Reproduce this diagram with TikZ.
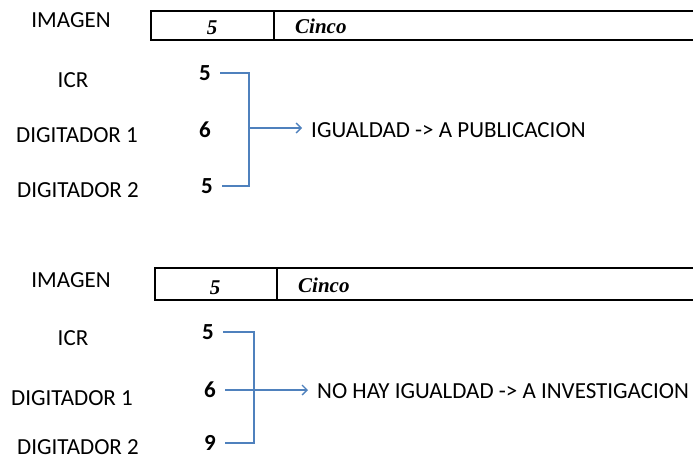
\documentclass[tikz,border=0pt]{standalone}
\usepackage{fontspec}
\setmainfont{Carlito}
\newfontfamily\handfont{Liberation Serif}
\usetikzlibrary{arrows.meta}
\definecolor{officeblue}{RGB}{79,129,189}
\tikzstyle{label} = [inner sep=0pt, font=\fontsize{23}{27}\selectfont]
\tikzstyle{num} = [inner sep=0pt, inner xsep=9pt, font=\fontsize{23}{27}\selectfont\bfseries]
\tikzstyle{hand} = [inner sep=0pt, font=\fontsize{21}{24}\selectfont\handfont\bfseries\itshape]
\tikzstyle{boxline} = [draw, line width=2pt]
\tikzstyle{bline} = [draw, officeblue, line width=1.3pt]
\tikzstyle{line} = [bline, -{Straight Barb[length=5pt, width=10pt]}, shorten >=9pt]

\begin{document}
\begin{tikzpicture}[x=1pt, y=-1pt]
    \useasboundingbox (0,0) rectangle (693,461);

    % first record
    \node[label](img1) at (71,20){IMAGEN};
    \node[label](icr1) at (73,80){ICR};
    \node[label](dga1) at (77,135){DIGITADOR 1};
    \node[label](dgb1) at (78,190){DIGITADOR 2};
    \path[boxline] (693,11) -- (151,11) -- (151,40) -- (693,40);
    \path[boxline] (274,11) -- (274,40);
    \node[hand](val1) at (212,28){5};
    \node[hand, anchor=west](txt1) at (295,26){Cinco};
    \node[num](na1) at (205,73){5};
    \node[num](nb1) at (205,130){6};
    \node[num](nc1) at (207,186){5};
    \coordinate (br1) at (249,128);
    \node[label, anchor=west](res1) at (311,130){IGUALDAD -> A PUBLICACION};

    \path[bline] (na1.east) -| (br1) |- (nc1.east);
    \path[line] (br1) -- (br1 -| res1.west);

    % second record
    \node[label](img2) at (71,280){IMAGEN};
    \node[label](icr2) at (73,338){ICR};
    \node[label](dga2) at (72,398){DIGITADOR 1};
    \node[label](dgb2) at (78,447){DIGITADOR 2};
    \path[boxline] (693,268) -- (155,268) -- (155,300) -- (693,300);
    \path[boxline] (277,268) -- (277,300);
    \node[hand](val2) at (215,288){5};
    \node[hand, anchor=west](txt2) at (298,285){Cinco};
    \node[num](na2) at (208,332){5};
    \node[num](nb2) at (210,390){6};
    \node[num](nc2) at (210,443){9};
    \coordinate (br2) at (254,390);
    \node[label, anchor=west](res2) at (317,391){NO HAY IGUALDAD -> A INVESTIGACION};

    \path[bline] (na2.east) -| (br2) |- (nc2.east);
    \path[line] (nb2.east) -- (nb2.east -| res2.west);
\end{tikzpicture}
\end{document}
